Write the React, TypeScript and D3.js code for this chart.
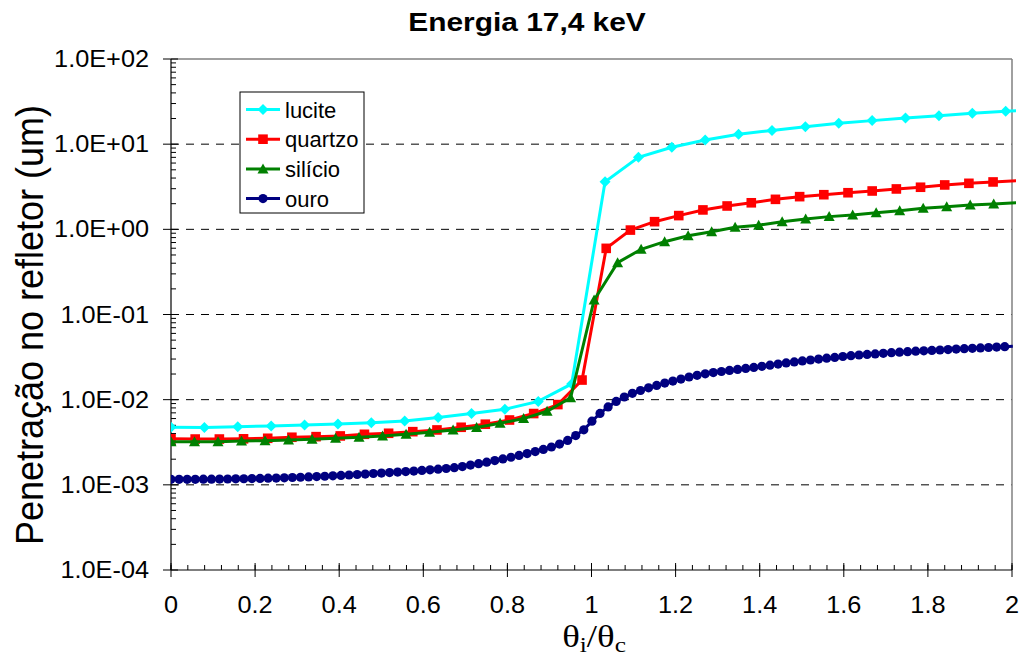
import React from 'react';
import * as d3 from 'd3';

// x grids: the angle step differs per material (θ/θc)
const luciteStep = 0.0794;
const quartzStep = 0.0575;
const siliconStep = 0.0559;
const goldStep = 0.01925;

const lucite = [4.74e-3, 4.72e-3, 4.82e-3, 4.91e-3, 5.04e-3, 5.18e-3, 5.37e-3, 5.62e-3, 6.17e-3, 6.86e-3,
  7.73e-3, 9.54e-3, 1.53e-2, 3.62, 7.0, 9.19, 11.2, 13.1, 14.5, 16.0, 17.6, 18.9, 20.3, 21.6, 23.0, 24.3, 25.5];

const quartz = [3.47e-3, 3.45e-3, 3.45e-3, 3.47e-3, 3.52e-3, 3.62e-3, 3.68e-3, 3.75e-3, 3.92e-3, 4.03e-3,
  4.21e-3, 4.41e-3, 4.74e-3, 5.15e-3, 5.77e-3, 6.87e-3, 8.76e-3, 1.70e-2, 0.598, 0.98, 1.23, 1.45, 1.69,
  1.88, 2.05, 2.25, 2.42, 2.55, 2.69, 2.82, 2.98, 3.12, 3.32, 3.47, 3.60, 3.72];

const silicon = [3.21e-3, 3.21e-3, 3.21e-3, 3.27e-3, 3.30e-3, 3.36e-3, 3.42e-3, 3.52e-3, 3.62e-3, 3.75e-3,
  3.92e-3, 4.15e-3, 4.41e-3, 4.71e-3, 5.28e-3, 6.00e-3, 7.30e-3, 1.05e-2, 0.148, 0.406, 0.583, 0.716, 0.842,
  0.938, 1.06, 1.12, 1.23, 1.32, 1.41, 1.47, 1.57, 1.65, 1.77, 1.84, 1.93, 1.99, 2.05];

const gold = [1.162e-3, 1.162e-3, 1.162e-3, 1.162e-3, 1.165e-3, 1.165e-3, 1.168e-3, 1.171e-3, 1.175e-3, 1.178e-3,
  1.184e-3, 1.189e-3, 1.196e-3, 1.202e-3, 1.210e-3, 1.219e-3, 1.227e-3, 1.239e-3, 1.251e-3, 1.261e-3,
  1.275e-3, 1.289e-3, 1.305e-3, 1.323e-3, 1.338e-3, 1.358e-3, 1.375e-3, 1.392e-3, 1.411e-3, 1.431e-3,
  1.452e-3, 1.475e-3, 1.499e-3, 1.526e-3, 1.556e-3, 1.590e-3, 1.639e-3, 1.704e-3, 1.771e-3, 1.846e-3,
  1.928e-3, 2.013e-3, 2.107e-3, 2.213e-3, 2.331e-3, 2.459e-3, 2.608e-3, 2.781e-3, 3.010e-3, 3.326e-3,
  3.787e-3, 4.429e-3, 5.588e-3, 6.900e-3, 8.227e-3, 9.545e-3, 1.075e-2, 1.188e-2, 1.282e-2, 1.379e-2,
  1.471e-2, 1.565e-2, 1.652e-2, 1.744e-2, 1.846e-2, 1.932e-2, 2.013e-2, 2.079e-2, 2.142e-2, 2.206e-2,
  2.267e-2, 2.329e-2, 2.393e-2, 2.465e-2, 2.540e-2, 2.616e-2, 2.703e-2, 2.776e-2, 2.852e-2, 2.922e-2,
  2.995e-2, 3.068e-2, 3.135e-2, 3.213e-2, 3.283e-2, 3.345e-2, 3.400e-2, 3.446e-2, 3.503e-2, 3.560e-2,
  3.609e-2, 3.658e-2, 3.708e-2, 3.748e-2, 3.788e-2, 3.830e-2, 3.871e-2, 3.924e-2, 3.966e-2, 4.009e-2,
  4.053e-2, 4.097e-2, 4.141e-2, 4.187e-2, 4.233e-2];

const seriesNames = ['lucite', 'quartzo', 'silício', 'ouro'];
const xTicks = [0, 0.2, 0.4, 0.6, 0.8, 1, 1.2, 1.4, 1.6, 1.8, 2];
const yTicks = [1e-4, 1e-3, 1e-2, 1e-1, 1e0, 1e1, 1e2];
const yTickLabels = ['1.0E-04', '1.0E-03', '1.0E-02', '1.0E-01', '1.0E+00', '1.0E+01', '1.0E+02'];

const W = 1021;
const H = 658;
const L = 171, R = 1012, T = 59, B = 570;
const SX = 1.1; // text in the source image is a little stretched horizontally
const SANS = '"Liberation Sans", Arial, sans-serif';

const x = d3.scaleLinear().domain([0, 2]).range([L, R]);
const y = d3.scaleLog().domain([1e-4, 1e2]).range([B, T]);

type Kind = 'diamond' | 'square' | 'triangle' | 'circle';

function marker(kind: Kind, cx: number, cy: number, color: string, key: any) {
  if (kind === 'diamond') {
    const s = 5.5;
    return <path key={key} d={`M${cx},${cy - s}L${cx + s},${cy}L${cx},${cy + s}L${cx - s},${cy}Z`} fill={color} />;
  }
  if (kind === 'square') {
    return <rect key={key} x={cx - 4.8} y={cy - 4.8} width={9.6} height={9.6} fill={color} />;
  }
  if (kind === 'triangle') {
    return <path key={key} d={`M${cx},${cy - 5.5}L${cx + 5.5},${cy + 4.5}L${cx - 5.5},${cy + 4.5}Z`} fill={color} />;
  }
  return <circle key={key} cx={cx} cy={cy} r={4.6} fill={color} />;
}

const series = [
  { name: seriesNames[0], values: lucite, step: luciteStep, color: '#00FFFF', kind: 'diamond' as Kind },
  { name: seriesNames[1], values: quartz, step: quartzStep, color: '#FF0000', kind: 'square' as Kind },
  { name: seriesNames[2], values: silicon, step: siliconStep, color: '#008000', kind: 'triangle' as Kind },
  { name: seriesNames[3], values: gold, step: goldStep, color: '#000080', kind: 'circle' as Kind },
];

export default function App() {
  const line = d3.line<[number, number]>().x(d => x(d[0])).y(d => y(d[1]));

  const minorY: number[] = [];
  for (let e = -4; e < 2; e++) {
    for (let m = 2; m <= 9; m++) minorY.push(m * Math.pow(10, e));
  }
  const minorX = d3.range(0, 2.0001, 0.04);

  return (
    <svg width={W} height={H} style={{ position: 'absolute', left: 0, top: 0, background: '#fff' }}
      fontFamily={SANS}>
      <defs>
        <clipPath id="plot">
          <rect x={L} y={T - 6} width={R - L + 4} height={B - T + 6} />
        </clipPath>
      </defs>
      <rect width={W} height={H} fill="#fff" />

      {/* title */}
      <text transform={`translate(527,31) scale(1.15,1)`} textAnchor="middle" fontSize={26} fontWeight="bold">
        Energia 17,4 keV
      </text>

      {/* gridlines */}
      {yTicks.slice(1, -1).map(t => (
        <line key={t} x1={L} x2={R} y1={y(t)} y2={y(t)} stroke="#000" strokeWidth={1} strokeDasharray="8,7" />
      ))}
      <line x1={L} x2={R} y1={T} y2={T} stroke="#808080" strokeWidth={1.5} />
      <line x1={R} x2={R} y1={T} y2={B} stroke="#808080" strokeWidth={1.5} />

      {/* axes */}
      <line x1={L} x2={L} y1={T} y2={B} stroke="#000" strokeWidth={1.2} />
      <line x1={L} x2={R} y1={B} y2={B} stroke="#000" strokeWidth={1.2} />
      {yTicks.map(t => (
        <line key={t} x1={L - 8} x2={L + 7} y1={y(t)} y2={y(t)} stroke="#000" strokeWidth={1} />
      ))}
      {minorY.map(t => (
        <line key={t} x1={L} x2={L + 5} y1={y(t)} y2={y(t)} stroke="#000" strokeWidth={1} />
      ))}
      {xTicks.map(t => (
        <line key={t} x1={x(t)} x2={x(t)} y1={B - 7} y2={B + 7} stroke="#000" strokeWidth={1} />
      ))}
      {minorX.map(t => (
        <line key={t} x1={x(t)} x2={x(t)} y1={B - 5} y2={B} stroke="#000" strokeWidth={1} />
      ))}

      {/* tick labels */}
      {yTicks.map((t, i) => (
        <text key={t} transform={`translate(149,${y(t) + 8}) scale(${SX},1)`} textAnchor="end" fontSize={23}>
          {yTickLabels[i]}
        </text>
      ))}
      {xTicks.map(t => (
        <text key={t} transform={`translate(${x(t)},613) scale(${SX},1)`} textAnchor="middle" fontSize={23}>
          {String(t)}
        </text>
      ))}

      {/* axis titles */}
      <text transform={`translate(43,325) scale(${SX},1) rotate(-90)`} textAnchor="middle" fontSize={36}>
        Penetração no refletor (um)
      </text>
      <text transform={`translate(594,647) scale(1.15,1)`} textAnchor="middle" fontSize={32}
        fontFamily='"Liberation Serif", "Times New Roman", serif'>
        θ<tspan fontSize={22} dy={5}>i</tspan><tspan fontSize={32} dy={-5}>/θ</tspan><tspan fontSize={22} dy={5}>c</tspan>
      </text>

      {/* series */}
      <g clipPath="url(#plot)">
        {series.map(s => {
          const pts: [number, number][] = s.values.map((v, i) => [i * s.step, v]);
          return (
            <g key={s.name}>
              <path d={line(pts) || ''} fill="none" stroke={s.color} strokeWidth={3} />
              {pts.filter(p => p[0] <= 2).map((p, i) => marker(s.kind, x(p[0]), y(p[1]), s.color, i))}
            </g>
          );
        })}
      </g>

      {/* legend */}
      <g>
        <rect x={240} y={92} width={124} height={121} fill="#fff" stroke="#000" strokeWidth={1} />
        {series.map((s, i) => {
          const ly = 109.5 + i * 29.7;
          return (
            <g key={s.name}>
              <line x1={246} x2={280} y1={ly} y2={ly} stroke={s.color} strokeWidth={3} />
              {marker(s.kind, 263, ly, s.color, 'm')}
              <text x={285} y={ly + 8} fontSize={22}>{s.name}</text>
            </g>
          );
        })}
      </g>
    </svg>
  );
}
